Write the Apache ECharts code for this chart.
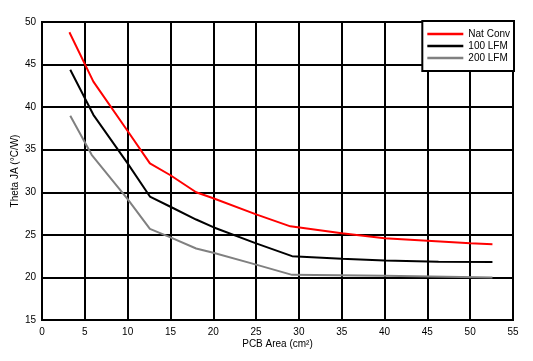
<!DOCTYPE html>
<html><head><meta charset="utf-8">
<script src="https://cdn.jsdelivr.net/npm/echarts@6/dist/echarts.min.js"></script>
<style>html,body{margin:0;padding:0;background:#fff}#c{width:533px;height:361px}</style>
</head><body><div id="c"></div>
<script>
const seriesNames = ['Nat Conv', '100 LFM', '200 LFM'];
const natConv = [[3.2,48.8],[6,43.0],[10,37.2],[12.6,33.4],[15,32.0],[18,30.0],[20,29.3],[25,27.4],[29,26.0],[35,25.2],[40,24.6],[45,24.3],[50,24.0],[52.6,23.9]];
const lfm100 = [[3.3,44.4],[6,39.1],[10,33.4],[12.6,29.5],[15,28.3],[18,26.8],[20,25.9],[25,24.0],[29.2,22.5],[35,22.2],[40,22.0],[46.3,21.85],[52.6,21.8]];
const lfm200 = [[3.3,39.0],[5.8,34.4],[10,29.2],[12.6,25.7],[15,24.7],[18,23.4],[20,22.9],[25,21.5],[29.2,20.3],[40,20.2],[52.6,20.0]];
const xTitle = 'PCB Area (cm²)';
const yTitle = 'Theta JA (°C/W)';

const font = 'Liberation Sans, Arial, sans-serif';
const chart = echarts.init(document.getElementById('c'), null, {renderer:'canvas'});
const colors = ['#ff0000', '#000000', '#808080'];
const data = [natConv, lfm100, lfm200];
chart.setOption({
  animation: false,
  grid: {left: 42, right: 20, top: 22, bottom: 41, show: true, borderColor: '#000', borderWidth: 2, backgroundColor: 'transparent', containLabel: false, outerBoundsMode: 'none'},
  xAxis: {
    type: 'value', min: 0, max: 55, interval: 5,
    name: xTitle, nameLocation: 'middle', nameGap: 19, nameMoveOverlap: false,
    nameTextStyle: {fontFamily: font, fontSize: 10, color: '#000'},
    axisLine: {show: true, lineStyle: {color: '#000', width: 2}},
    axisTick: {show: false},
    axisLabel: {fontFamily: font, fontSize: 10, color: '#000', margin: 7},
    splitLine: {show: true, lineStyle: {color: '#000', width: 2}}
  },
  yAxis: {
    type: 'value', min: 15, max: 50, interval: 5,
    name: yTitle, nameLocation: 'middle', nameGap: 22, nameRotate: 90, nameMoveOverlap: false,
    nameTextStyle: {fontFamily: font, fontSize: 10, color: '#000'},
    axisLine: {show: true, lineStyle: {color: '#000', width: 2}},
    axisTick: {show: false},
    axisLabel: {fontFamily: font, fontSize: 10, color: '#000', margin: 6},
    splitLine: {show: true, lineStyle: {color: '#000', width: 2}}
  },
  legend: {
    right: 19, top: 21, orient: 'vertical',
    backgroundColor: '#fff', borderColor: '#000', borderWidth: 2,
    padding: [8, 4, 8, 5], itemGap: 2, itemWidth: 36, itemHeight: 10,
    textStyle: {fontFamily: font, fontSize: 10, color: '#000'},
    data: seriesNames.map(n => ({name: n, icon: 'path://M0,0L36,0L36,2.5L0,2.5Z'}))
  },
  series: seriesNames.map((n, i) => ({
    name: n, type: 'line', data: data[i], showSymbol: false, symbol: 'none',
    lineStyle: {color: colors[i], width: 2}, itemStyle: {color: colors[i]}, z: 5
  }))
});
</script></body></html>
